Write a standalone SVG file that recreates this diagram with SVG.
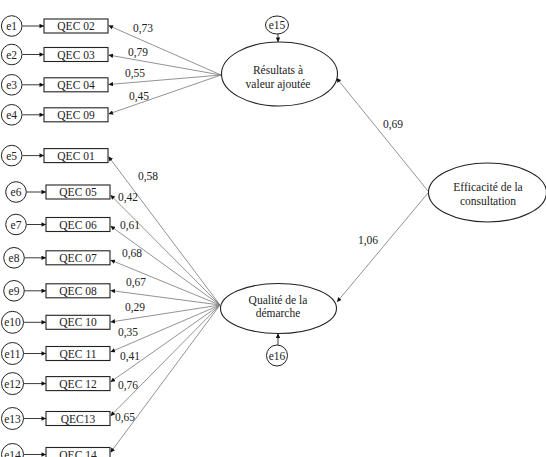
<svg xmlns="http://www.w3.org/2000/svg" width="546" height="457" viewBox="0 0 546 457" font-family="Liberation Serif, DejaVu Serif, serif">
<defs>
<marker id="ah" viewBox="0 0 10 10" refX="10" refY="5" markerWidth="5" markerHeight="4.5" markerUnits="userSpaceOnUse" orient="auto">
<path d="M0,0 L10,5 L0,10 z" fill="#111"/>
</marker>
<style>
text{font-size:11.5px;fill:#222;text-anchor:middle}
.box{fill:#fff;stroke:#222;stroke-width:1.1}
.err{fill:#fff;stroke:#222;stroke-width:1}
.lat{fill:#fff;stroke:#222;stroke-width:1.1}
.c{stroke:#777;stroke-width:0.8;fill:none;marker-end:url(#ah)}
.ce{stroke:#222;stroke-width:0.9;fill:none;marker-end:url(#ah)}
</style>
</defs>
<rect width="546" height="457" fill="#fff"/>
<g id="connectors">
<line class="ce" x1="22.5" y1="26" x2="44" y2="26"/>
<line class="ce" x1="22.5" y1="54.5" x2="44" y2="54.5"/>
<line class="ce" x1="22.5" y1="84.8" x2="44" y2="84.8"/>
<line class="ce" x1="22.5" y1="114.8" x2="44" y2="114.8"/>
<line class="ce" x1="22.5" y1="155.6" x2="44" y2="155.6"/>
<line class="ce" x1="26.5" y1="192" x2="46" y2="192"/>
<line class="ce" x1="26.5" y1="224.5" x2="46" y2="224.5"/>
<line class="ce" x1="24.5" y1="257.8" x2="46" y2="257.8"/>
<line class="ce" x1="24.5" y1="290.8" x2="46" y2="290.8"/>
<line class="ce" x1="23.5" y1="322.3" x2="46" y2="322.3"/>
<line class="ce" x1="23.5" y1="353.5" x2="46" y2="353.5"/>
<line class="ce" x1="23.5" y1="383.6" x2="46" y2="383.6"/>
<line class="ce" x1="23.5" y1="418.5" x2="46" y2="418.5"/>
<line class="ce" x1="23.5" y1="454.5" x2="46" y2="454.5"/>
<line class="c" x1="221" y1="75" x2="108.5" y2="25.5"/>
<line class="c" x1="221" y1="75" x2="108.5" y2="55"/>
<line class="c" x1="221" y1="75" x2="108.5" y2="84.5"/>
<line class="c" x1="221" y1="75" x2="108.5" y2="114"/>
<line class="c" x1="220" y1="305" x2="108.5" y2="156.5"/>
<line class="c" x1="220" y1="305" x2="110.5" y2="195"/>
<line class="c" x1="220" y1="305" x2="110.5" y2="226"/>
<line class="c" x1="220" y1="305" x2="110.5" y2="260"/>
<line class="c" x1="220" y1="305" x2="110.5" y2="290.5"/>
<line class="c" x1="220" y1="305" x2="110.5" y2="322"/>
<line class="c" x1="220" y1="305" x2="110.5" y2="352"/>
<line class="c" x1="220" y1="305" x2="110.5" y2="382"/>
<line class="c" x1="220" y1="305" x2="110.5" y2="416"/>
<line class="c" x1="220" y1="305" x2="110.5" y2="452.5"/>
<line class="c" x1="428" y1="191" x2="336.5" y2="78"/>
<line class="c" x1="428" y1="193" x2="337" y2="302"/>
<line class="ce" x1="278" y1="34" x2="278" y2="42"/>
<line class="ce" x1="278" y1="345" x2="278" y2="333.5"/>
<text x="143" y="32">0,73</text>
<text x="138" y="55.5">0,79</text>
<text x="135" y="76.5">0,55</text>
<text x="139" y="100">0,45</text>
<text x="148" y="180">0,58</text>
<text x="128" y="201">0,42</text>
<text x="130" y="229">0,61</text>
<text x="132" y="257">0,68</text>
<text x="136" y="286">0,67</text>
<text x="135" y="311">0,29</text>
<text x="128" y="336">0,35</text>
<text x="130" y="360">0,41</text>
<text x="128" y="389">0,76</text>
<text x="125" y="421">0,65</text>
<text x="393" y="128">0,69</text>
<text x="368" y="244">1,06</text>
</g>
<g id="e1"><circle class="err" cx="11.7" cy="26" r="10.3"/><text x="11.7" y="30">e1</text></g>
<g id="e2"><circle class="err" cx="11.7" cy="54.5" r="10.3"/><text x="11.7" y="58.5">e2</text></g>
<g id="e3"><circle class="err" cx="11.7" cy="84.8" r="10.3"/><text x="11.7" y="88.8">e3</text></g>
<g id="e4"><circle class="err" cx="11.7" cy="114.8" r="10.3"/><text x="11.7" y="118.8">e4</text></g>
<g id="e5"><circle class="err" cx="11.7" cy="155.6" r="10.3"/><text x="11.7" y="159.6">e5</text></g>
<g id="e6"><circle class="err" cx="16" cy="192" r="10.3"/><text x="16" y="196">e6</text></g>
<g id="e7"><circle class="err" cx="16" cy="224.5" r="10.3"/><text x="16" y="228.5">e7</text></g>
<g id="e8"><circle class="err" cx="14" cy="257.8" r="10.3"/><text x="14" y="261.8">e8</text></g>
<g id="e9"><circle class="err" cx="14" cy="290.8" r="10.3"/><text x="14" y="294.8">e9</text></g>
<g id="e10"><circle class="err" cx="12.5" cy="322.3" r="11"/><text x="12.5" y="326.3">e10</text></g>
<g id="e11"><circle class="err" cx="12.5" cy="353.5" r="11"/><text x="12.5" y="357.5">e11</text></g>
<g id="e12"><circle class="err" cx="12.5" cy="383.6" r="11"/><text x="12.5" y="387.6">e12</text></g>
<g id="e13"><circle class="err" cx="12.5" cy="418.5" r="11"/><text x="12.5" y="422.5">e13</text></g>
<g id="e14"><circle class="err" cx="12.5" cy="454.5" r="11"/><text x="12.5" y="458.5">e14</text></g>
<g id="qec02"><rect class="box" x="44" y="19" width="64" height="14"/><text x="76" y="30">QEC 02</text></g>
<g id="qec03"><rect class="box" x="44" y="47.5" width="64" height="14"/><text x="76" y="58.5">QEC 03</text></g>
<g id="qec04"><rect class="box" x="44" y="77.8" width="64" height="14"/><text x="76" y="88.8">QEC 04</text></g>
<g id="qec09"><rect class="box" x="44" y="107.8" width="64" height="14"/><text x="76" y="118.8">QEC 09</text></g>
<g id="qec01"><rect class="box" x="44" y="148.6" width="64" height="14"/><text x="76" y="159.6">QEC 01</text></g>
<g id="qec05"><rect class="box" x="46" y="185" width="64" height="14"/><text x="78" y="196">QEC 05</text></g>
<g id="qec06"><rect class="box" x="46" y="217.5" width="64" height="14"/><text x="78" y="228.5">QEC 06</text></g>
<g id="qec07"><rect class="box" x="46" y="250.8" width="64" height="14"/><text x="78" y="261.8">QEC 07</text></g>
<g id="qec08"><rect class="box" x="46" y="283.8" width="64" height="14"/><text x="78" y="294.8">QEC 08</text></g>
<g id="qec10"><rect class="box" x="46" y="315.3" width="64" height="14"/><text x="78" y="326.3">QEC 10</text></g>
<g id="qec11"><rect class="box" x="46" y="346.5" width="64" height="14"/><text x="78" y="357.5">QEC 11</text></g>
<g id="qec12"><rect class="box" x="46" y="376.6" width="64" height="14"/><text x="78" y="387.6">QEC 12</text></g>
<g id="qec13"><rect class="box" x="46" y="411.5" width="64" height="14"/><text x="78" y="422.5">QEC13</text></g>
<g id="qec14"><rect class="box" x="46" y="447.5" width="64" height="14"/><text x="78" y="458.5">QEC 14</text></g>
<g id="resultats"><ellipse class="lat" cx="279.5" cy="74" rx="58" ry="32"/><text x="278" y="74">Résultats à</text><text x="278" y="87.5">valeur ajoutée</text></g>
<g id="qualite"><ellipse class="lat" cx="278.5" cy="308.5" rx="58" ry="25"/><text x="278" y="303.5">Qualité de la</text><text x="278" y="317">démarche</text></g>
<g id="efficacite"><ellipse class="lat" cx="487.5" cy="192.5" rx="59" ry="29.5"/><text x="488" y="191">Efficacité de la</text><text x="488" y="205">consultation</text></g>
<g id="e15"><ellipse class="err" cx="277" cy="25" rx="11.5" ry="9"/><text x="277" y="29">e15</text></g>
<g id="e16"><circle class="err" cx="277" cy="355.5" r="10.5"/><text x="277" y="359.5">e16</text></g>
</svg>
